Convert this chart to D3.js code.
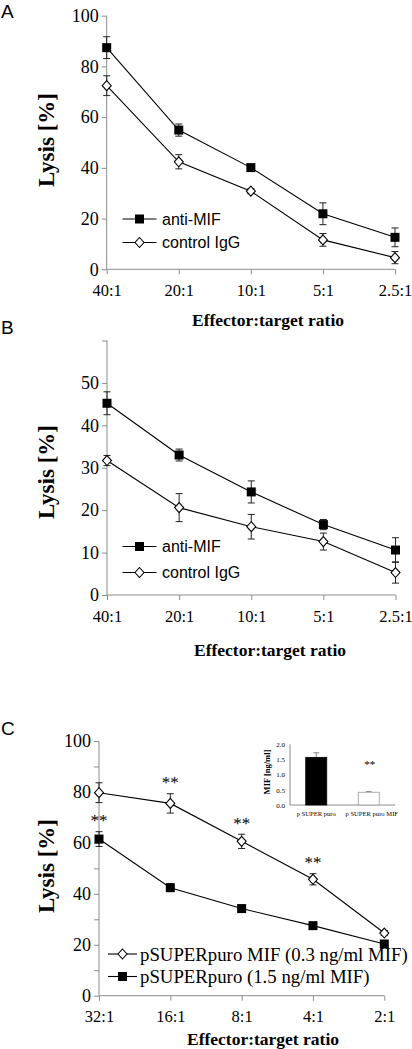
<!DOCTYPE html>
<html><head><meta charset="utf-8">
<script src="https://cdn.jsdelivr.net/npm/d3@7"></script>
<style>body{margin:0;background:#fff}svg{display:block}</style>
</head><body>
<svg id="c" width="412" height="1049"></svg>
<script>
// ---- data ----
const ratiosAB = ["40:1","20:1","10:1","5:1","2.5:1"];
const ratiosC = ["32:1","16:1","8:1","4:1","2:1"];

const A_antiMIF = [87.4, 54.9, 40.1, 21.9, 12.6];
const A_antiMIF_err = [4.3, 2.4, 1.0, 4.3, 3.7];
const A_ctrl = [72.4, 42.4, 30.8, 11.6, 4.6];
const A_ctrl_err = [3.9, 2.8, 1.0, 2.5, 2.4];

const B_antiMIF = [45.2, 33.0, 24.3, 16.6, 10.6];
const B_antiMIF_err = [2.7, 1.4, 2.6, 1.2, 2.9];
const B_ctrl = [31.7, 20.6, 16.1, 12.6, 5.3];
const B_ctrl_err = [1.2, 3.3, 2.9, 2.0, 2.5];

const C_mif = [79.7, 75.5, 60.6, 45.7, 24.6];
const C_mif_err = [3.9, 3.8, 2.8, 2.2, 1.0];
const C_puro = [61.5, 42.4, 34.2, 27.5, 20.3];
const C_puro_err = [2.9, 1.5, 1.3, 1.0, 0.7];

const starCats = ["32:1","16:1","8:1","4:1"];
const starAnchor = [64.4, 79.3, 63.4, 47.9];

const insetCats = ["p SUPER puro","p SUPER puro MIF"];
const insetVals = [1.57, 0.42];
const insetErr = [0.15, 0.02];
const insetTicks = [0, 0.5, 1, 1.5, 2];

const legendAB = ["anti-MIF","control IgG"];
const legendC = ["pSUPERpuro MIF (0.3 ng/ml MIF)","pSUPERpuro (1.5 ng/ml MIF)"];

// ---- drawing ----
const svg = d3.select("#c");
const AX = "#8c8c8c";
const SERIF = "'Liberation Serif','Times New Roman',serif";
const SANS = "'Liberation Sans',Arial,sans-serif";

function marker(g, type, x, y){
  if(type==="square"){
    g.append("rect").attr("x",x-4.5).attr("y",y-4.5).attr("width",9).attr("height",9).attr("fill","#000");
  } else {
    g.append("path").attr("d",`M${x},${y-5}L${x+4.5},${y}L${x},${y+5}L${x-4.5},${y}Z`)
      .attr("fill","#fff").attr("stroke","#000").attr("stroke-width",1.1);
  }
}

function panel(o){
  const g = svg.append("g");
  const x = d3.scalePoint().domain(o.cats).range(o.xr);
  const y = d3.scaleLinear().domain(o.yd).range(o.yr);
  // y axis
  const ya = d3.axisLeft(y).tickValues(d3.range(o.yd[0], o.yd[1]+0.001, o.tickStep)).tickSize(5)
    .tickFormat(d => o.labels.includes(d) ? d : "");
  const yg = g.append("g").attr("transform",`translate(${o.xr[0]},0)`).call(ya);
  yg.attr("font-family",null);
  yg.select(".domain").attr("stroke",AX).attr("d",`M0,${o.yr[0]}V${o.yr[1]}`);
  yg.selectAll(".tick line").attr("stroke",AX);
  yg.selectAll(".tick text").style("font-family",SERIF).style("font-size","18px").attr("fill","#000").attr("x",-8);
  // x axis
  const xa = d3.axisBottom(x).tickSize(5).tickPadding(10);
  const xg = g.append("g").attr("transform",`translate(0,${o.yr[0]})`).call(xa);
  xg.select(".domain").attr("stroke",AX).attr("d",`M${o.xr[0]},0H${o.xr[1]}`);
  xg.selectAll(".tick line").attr("stroke",AX);
  xg.selectAll(".tick text").style("font-family",SERIF).style("font-size","16.5px").attr("fill","#000");
  // titles
  g.append("text").attr("transform",`translate(${o.ylx},${o.yly}) rotate(-90)`)
    .attr("text-anchor","middle").style("font-family",SERIF).attr("font-weight","bold").style("font-size","23px")
    .text("Lysis [%]");
  g.append("text").attr("x",o.xt[0]).attr("y",o.xt[1]).attr("text-anchor","middle")
    .style("font-family",SERIF).attr("font-weight","bold").style("font-size","17.5px").text("Effector:target ratio");
  g.append("text").attr("x",o.letter[0]).attr("y",o.letter[1]).style("font-family",SANS).style("font-size","19px").text(o.letterText);
  // series
  o.series.forEach(s=>{
    const line = d3.line().x((d,i)=>x(o.cats[i])).y(d=>y(d));
    g.append("path").attr("d",line(s.vals)).attr("fill","none").attr("stroke","#000").attr("stroke-width",1.1);
    s.vals.forEach((v,i)=>{
      const cx = x(o.cats[i]);
      const e = s.err[i];
      g.append("path").attr("d",`M${cx},${y(v-e)}V${y(v+e)}M${cx-3.5},${y(v-e)}H${cx+3.5}M${cx-3.5},${y(v+e)}H${cx+3.5}`)
        .attr("stroke","#222").attr("stroke-width",1).attr("fill","none");
    });
    s.vals.forEach((v,i)=>marker(g,s.type,x(o.cats[i]),y(v)));
  });
  // legend
  o.legend.forEach((l,i)=>{
    const ly = o.leg.y + i*o.leg.dy;
    g.append("line").attr("x1",o.leg.x1).attr("x2",o.leg.x2).attr("y1",ly).attr("y2",ly).attr("stroke","#000").attr("stroke-width",1.1);
    marker(g,l.type,(o.leg.x1+o.leg.x2)/2,ly);
    g.append("text").attr("x",o.leg.tx).attr("y",ly).attr("dy","0.35em").style("font-family",o.leg.font)
      .style("font-size",o.leg.fs+"px").text(l.label);
  });
  return {g,x,y};
}

panel({cats:ratiosAB, xr:[106.7,395], yd:[0,100], yr:[269.3,15.7], tickStep:20, labels:[0,20,40,60,80,100],
  ylx:54, yly:140, xt:[268,326], letter:[1,18], letterText:"A",
  series:[{vals:A_antiMIF,err:A_antiMIF_err,type:"square"},{vals:A_ctrl,err:A_ctrl_err,type:"diamond"}],
  legend:[{label:legendAB[0],type:"square"},{label:legendAB[1],type:"diamond"}],
  leg:{x1:122.5,x2:156.5,tx:162,y:219,dy:23.5,font:SANS,fs:16}});

panel({cats:ratiosAB, xr:[107,395.5], yd:[0,60], yr:[595,340.5], tickStep:10, labels:[0,10,20,30,40,50],
  ylx:54, yly:472, xt:[270,656], letter:[1,334], letterText:"B",
  series:[{vals:B_antiMIF,err:B_antiMIF_err,type:"square"},{vals:B_ctrl,err:B_ctrl_err,type:"diamond"}],
  legend:[{label:legendAB[0],type:"square"},{label:legendAB[1],type:"diamond"}],
  leg:{x1:122.5,x2:156.5,tx:162,y:546.5,dy:26,font:SANS,fs:16}});

const pc = panel({cats:ratiosC, xr:[99,384.3], yd:[0,100], yr:[995.7,741], tickStep:10, labels:[0,20,40,60,80,100],
  ylx:54, yly:866, xt:[263,1045], letter:[1,735], letterText:"C",
  series:[{vals:C_mif,err:C_mif_err,type:"diamond"},{vals:C_puro,err:C_puro_err,type:"square"}],
  legend:[{label:legendC[0],type:"diamond"},{label:legendC[1],type:"square"}],
  leg:{x1:108,x2:137,tx:140,y:954,dy:22.5,font:SERIF,fs:18.8}});

// significance stars
starCats.forEach((c,i)=>{
  pc.g.append("text").attr("x",pc.x(c)).attr("y",pc.y(starAnchor[i])-14).attr("dy","0.5em")
    .attr("text-anchor","middle").style("font-family",SERIF).style("font-size","17px").text("**");
});

// inset
(function(){
  const g = svg.append("g");
  const x = d3.scaleBand().domain(insetCats).range([290,395]).paddingInner(0.6).paddingOuter(0.3);
  const y = d3.scaleLinear().domain([0,2]).range([805,744.3]);
  const ya = d3.axisLeft(y).tickValues(insetTicks).tickSize(0).tickPadding(5);
  const yg = g.append("g").attr("transform","translate(290,0)").call(ya);
  yg.select(".domain").attr("stroke",AX).attr("d","M0,805V744.3");
  yg.selectAll(".tick text").style("font-family",SERIF).style("font-size","7px").attr("fill","#000");
  g.append("line").attr("x1",290).attr("x2",395).attr("y1",805).attr("y2",805).attr("stroke",AX);
  insetCats.forEach((c,i)=>{
    const cx = x(c)+x.bandwidth()/2;
    g.append("path").attr("d",`M${cx},${y(insetVals[i])}V${y(insetVals[i]+insetErr[i])}M${cx-3},${y(insetVals[i]+insetErr[i])}H${cx+3}`)
      .attr("stroke","#666").attr("stroke-width",0.8);
    g.append("rect").attr("x",x(c)).attr("width",x.bandwidth()).attr("y",y(insetVals[i])).attr("height",805-y(insetVals[i]))
      .attr("fill",i===0?"#000":"#fff").attr("stroke",i===0?"#000":"#999").attr("stroke-width",0.8);
    g.append("text").attr("x",cx+(i===0?0:3)).attr("y",815.5).attr("text-anchor","middle")
      .style("font-family",SERIF).style("font-size","6.6px").attr("fill","#000").text(c);
  });
  g.append("text").attr("x",x(insetCats[1])+x.bandwidth()/2+1).attr("y",768).attr("text-anchor","middle")
    .style("font-family",SERIF).style("font-size","11px").attr("fill","#000").text("**");
  g.append("text").attr("transform","translate(270,772) rotate(-90)").attr("text-anchor","middle")
    .style("font-family",SERIF).attr("font-weight","bold").style("font-size","8.5px").attr("fill","#000").text("MIF [ng/ml]");
})();
</script>
</body></html>
